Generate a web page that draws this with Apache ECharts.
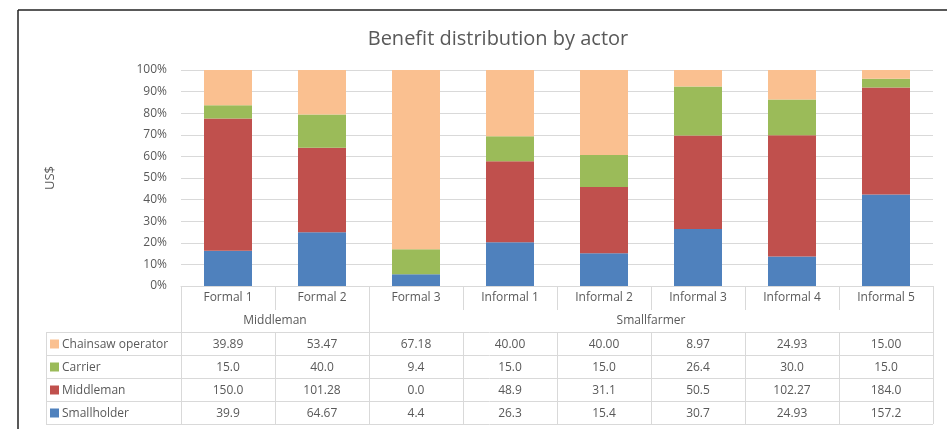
<!DOCTYPE html>
<html><head><meta charset="utf-8">
<script src="https://cdn.jsdelivr.net/npm/echarts@6/dist/echarts.min.js"></script>
<style>html,body{margin:0;padding:0;background:#fff}#c{width:947px;height:429px}</style>
</head><body><div id="c"></div>
<script>
const categories = ['Formal 1','Formal 2','Formal 3','Informal 1','Informal 2','Informal 3','Informal 4','Informal 5'];
const groups = [{name:'Middleman', from:0, to:1}, {name:'Smallfarmer', from:2, to:7}];
const seriesNames = ['Smallholder','Middleman','Carrier','Chainsaw operator'];
const smallholder = ['39.9','64.67','4.4','26.3','15.4','30.7','24.93','157.2'];
const middleman = ['150.0','101.28','0.0','48.9','31.1','50.5','102.27','184.0'];
const carrier = ['15.0','40.0','9.4','15.0','15.0','26.4','30.0','15.0'];
const chainsaw = ['39.89','53.47','67.18','40.00','40.00','8.97','24.93','15.00'];
const yTicks = [0,10,20,30,40,50,60,70,80,90,100];
const colors = ['#4F81BD','#C0504D','#9BBB59','#FAC090'];

const raw = [smallholder, middleman, carrier, chainsaw];
const totals = categories.map((_, i) => raw.reduce((s, a) => s + parseFloat(a[i]), 0));
const pct = raw.map(a => a.map((v, i) => parseFloat(v) / totals[i] * 100));

const L = 181, R = 933, T = 70, B = 286;
const n = categories.length, cw = (R - L) / n;
const TL = 46;
const rowY = [332, 355, 378, 401, 424];
const lineC = '#D9D9D9', txtC = '#595959', font = '12px "Open Sans"';

const g = [];
function hline(x1, x2, y){ g.push({type:'line', shape:{x1, y1:y, x2, y2:y}, style:{stroke:lineC, lineWidth:1}, silent:true}); }
function vline(x, y1, y2){ g.push({type:'line', shape:{x1:x, y1, x2:x, y2}, style:{stroke:lineC, lineWidth:1}, silent:true}); }
function txt(x, y, s, align){ g.push({type:'text', x, y, style:{text:s, font, fill:txtC, align:align||'center', verticalAlign:'middle'}, silent:true}); }

// frame
g.push({type:'line', shape:{x1:18, y1:10, x2:947, y2:10}, style:{stroke:'#222', lineWidth:1.5}, silent:true});
g.push({type:'line', shape:{x1:18, y1:10, x2:18, y2:429}, style:{stroke:'#222', lineWidth:1.5}, silent:true});

// category + group header
const groupStarts = new Set(groups.map(gr => gr.from));
for (let i = 0; i <= n; i++) {
  const x = Math.round(L + i * cw) + 0.5;
  const full = i === 0 || i === n || groupStarts.has(i);
  vline(x, B, full ? rowY[4] : 310);
  if (!full) vline(x, rowY[0], rowY[4]);
}
categories.forEach((c, i) => txt(L + (i + 0.5) * cw, 298, c));
groups.forEach(gr => txt(L + ((gr.from + gr.to + 1) / 2) * cw, 321, gr.name));
// data rows
rowY.forEach(y => hline(TL, R, y + 0.5));
vline(TL + 0.5, rowY[0], rowY[4]);
const order = [3, 2, 1, 0];
order.forEach((si, r) => {
  const yc = (rowY[r] + rowY[r + 1]) / 2 + 1;
  g.push({type:'rect', shape:{x:50, y:yc - 5, width:9, height:9}, style:{fill:colors[si]}, silent:true});
  txt(62, yc, seriesNames[si], 'left');
  raw[si].forEach((v, i) => txt(L + (i + 0.5) * cw, yc, v));
});

const chart = echarts.init(document.getElementById('c'), null, {renderer:'canvas'});
chart.setOption({
  animation: false,
  title: {text:'Benefit distribution by actor', left:493, top:24, textAlign:'center',
    textStyle:{fontFamily:'Open Sans', fontSize:20, fontWeight:'normal', color:'#595959'}},
  grid: {left:L, right:947 - R, top:T, bottom:429 - B, containLabel:false},
  xAxis: {type:'category', data:categories, axisLabel:{show:false}, axisTick:{show:false},
    axisLine:{lineStyle:{color:lineC}}},
  yAxis: {type:'value', min:0, max:100, interval:10, name:'US$', nameLocation:'middle', nameGap:124,
    nameTextStyle:{fontFamily:'Open Sans', fontSize:13, color:txtC},
    axisLabel:{formatter:'{value}%', fontFamily:'Open Sans', fontSize:12, color:txtC, margin:14},
    splitLine:{lineStyle:{color:lineC}}, axisLine:{show:false}, axisTick:{show:false}},
  series: pct.map((d, si) => ({type:'bar', name:seriesNames[si], stack:'all', data:d, barWidth:48,
    itemStyle:{color:colors[si]}})),
  graphic: g
});
</script></body></html>
